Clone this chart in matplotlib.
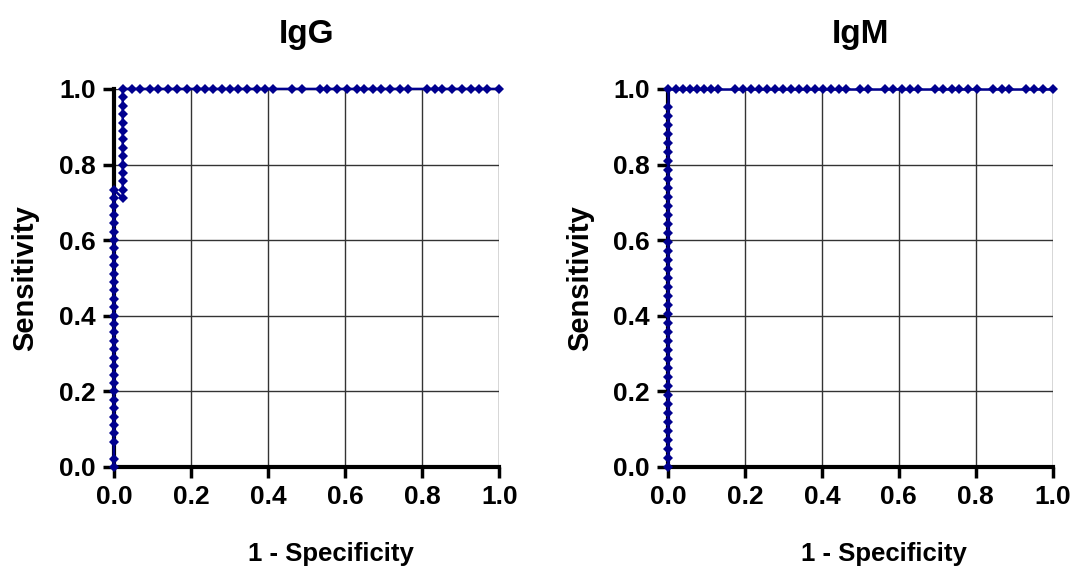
import numpy as np
import matplotlib.pyplot as plt

plt.rcParams['font.family'] = ['Liberation Sans', 'DejaVu Sans']
plt.rcParams['font.weight'] = 'bold'

# IgG ROC points (1 - specificity, sensitivity)
igg_col0_sens = [0.000, 0.022, 0.067, 0.089, 0.111, 0.133, 0.156, 0.178, 0.200,
                 0.222, 0.244, 0.267, 0.289, 0.311, 0.333, 0.356, 0.378, 0.400,
                 0.422, 0.444, 0.467, 0.489, 0.511, 0.533, 0.556, 0.578, 0.600,
                 0.622, 0.644, 0.667, 0.689, 0.711, 0.733]
igg_col1_fpr = 0.023
igg_col1_sens = [0.711, 0.733, 0.756, 0.778, 0.800, 0.822, 0.844, 0.867, 0.889,
                 0.911, 0.933, 0.956, 0.978, 1.000]
igg_top_fpr = [0.047, 0.067, 0.093, 0.114, 0.140, 0.163, 0.189, 0.215, 0.236,
               0.256, 0.280, 0.301, 0.321, 0.345, 0.370, 0.391, 0.412, 0.461,
               0.487, 0.534, 0.554, 0.580, 0.604, 0.630, 0.650, 0.671, 0.694,
               0.715, 0.741, 0.762, 0.811, 0.832, 0.852, 0.878, 0.904, 0.927,
               0.948, 0.969, 1.000]

# IgM ROC points
igm_col0_sens = [0.000, 0.024, 0.048, 0.071, 0.095, 0.119, 0.143, 0.167, 0.190,
                 0.214, 0.238, 0.262, 0.286, 0.310, 0.333, 0.357, 0.381, 0.405,
                 0.429, 0.452, 0.476, 0.500, 0.524, 0.548, 0.571, 0.595, 0.619,
                 0.643, 0.667, 0.690, 0.714, 0.738, 0.762, 0.786, 0.810, 0.833,
                 0.857, 0.881, 0.905, 0.929, 0.952, 1.000]
igm_top_fpr = [0.021, 0.039, 0.057, 0.075, 0.094, 0.112, 0.130, 0.174, 0.195,
               0.216, 0.236, 0.257, 0.278, 0.299, 0.319, 0.340, 0.361, 0.382,
               0.403, 0.423, 0.444, 0.462, 0.499, 0.519, 0.564, 0.584, 0.608,
               0.629, 0.649, 0.694, 0.714, 0.738, 0.758, 0.779, 0.803, 0.844,
               0.868, 0.888, 0.932, 0.953, 0.974, 1.000]

igg_x = [0.0] * len(igg_col0_sens) + [igg_col1_fpr] * len(igg_col1_sens) + igg_top_fpr
igg_y = igg_col0_sens + igg_col1_sens + [1.0] * len(igg_top_fpr)
igm_x = [0.0] * len(igm_col0_sens) + igm_top_fpr
igm_y = igm_col0_sens + [1.0] * len(igm_top_fpr)

ticks = [0.0, 0.2, 0.4, 0.6, 0.8, 1.0]
navy = '#00008f'

fig = plt.figure(figsize=(10.74, 5.70), dpi=100)
ax1 = fig.add_axes([0.106, 0.181, 0.359, 0.663])
ax2 = fig.add_axes([0.622, 0.181, 0.358, 0.663])

for ax, x, y, title in [(ax1, igg_x, igg_y, 'IgG'), (ax2, igm_x, igm_y, 'IgM')]:
    ax.set_xlim(0, 1)
    ax.set_ylim(0, 1)
    ax.set_xticks(ticks)
    ax.set_yticks(ticks)
    ax.set_xticklabels(['%.1f' % t for t in ticks])
    ax.set_yticklabels(['%.1f' % t for t in ticks])
    ax.grid(True, color='#333333', linewidth=1.0)
    ax.set_axisbelow(True)
    for s in ['top', 'right']:
        ax.spines[s].set_visible(False)
    for s in ['left', 'bottom']:
        ax.spines[s].set_linewidth(3)
        ax.spines[s].set_color('black')
    ax.tick_params(direction='out', length=8, width=2.5, labelsize=19, pad=5)
    ax.plot(x, y, color=navy, linewidth=1.8, marker='D', markersize=5.5,
            markeredgewidth=0, clip_on=False, zorder=5)
    ax.set_title(title, fontsize=24, fontweight='bold', pad=33)
    ax.set_xlabel('1 - Specificity', fontsize=18.5, fontweight='bold')
    ax.xaxis.set_label_coords(0.562, -0.2)
    ax.set_ylabel('Sensitivity', fontsize=21, fontweight='bold', labelpad=14)

fig.savefig('out.png', dpi=100)
